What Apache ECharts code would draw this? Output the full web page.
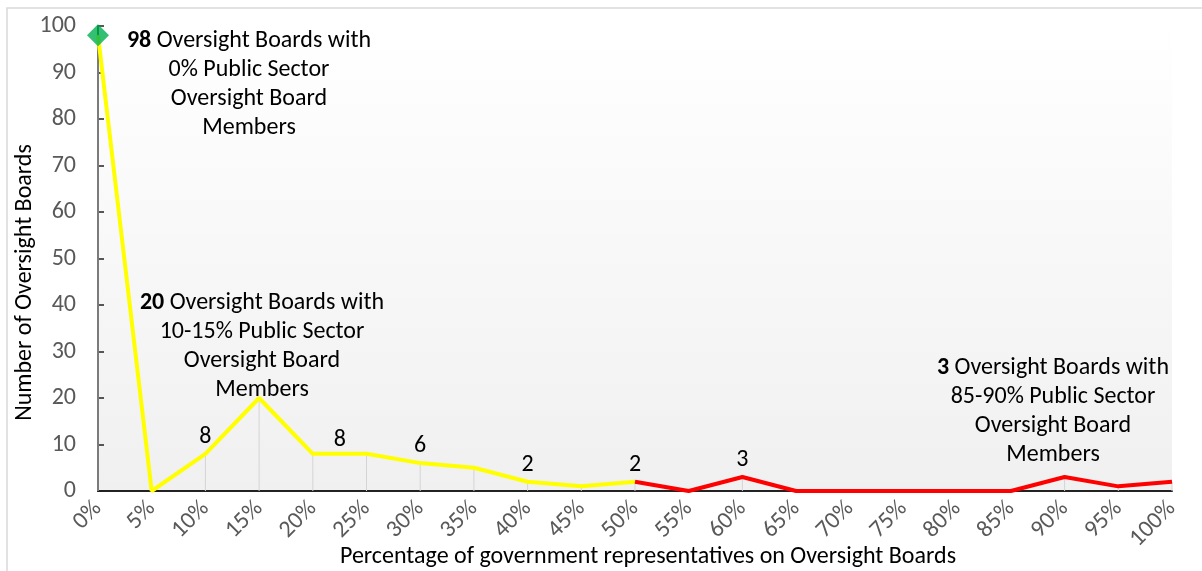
<!DOCTYPE html>
<html><head><meta charset="utf-8">
<script src="https://cdn.jsdelivr.net/npm/echarts@6/dist/echarts.min.js"></script>
<style>html,body{margin:0;padding:0;background:#fff}#c{width:1202px;height:571px}</style>
</head><body><div id="c"></div>
<script>
const categories = ['0%','5%','10%','15%','20%','25%','30%','35%','40%','45%','50%','55%','60%','65%','70%','75%','80%','85%','90%','95%','100%'];
const boards = [98,0,8,20,8,8,6,5,2,1,2,0,3,0,0,0,0,0,3,1,2];
const splitIndex = 10; // yellow up to 50%, red from 50%
const yTicks = [0,10,20,30,40,50,60,70,80,90,100];
const labelledPoints = {2:[0,0],4:[27,3],6:[0,0],8:[0,0],10:[0,0],12:[0,0]};

const FONT = 'Carlito, Lato, "Liberation Sans", sans-serif';
const yellowData = boards.map((v,i)=> i<=splitIndex ? v : '-');
const redData = boards.map((v,i)=> i>=splitIndex ? v : '-');
const labelData = boards.map((v,i)=>{
  if (labelledPoints[i]) return {value:v,label:{show:true,offset:labelledPoints[i]}};
  return {value:v,label:{show:false}};
});

const chart = echarts.init(document.getElementById('c'));
chart.setOption({
  animation:false,
  grid:{left:98,right:30,top:26,bottom:80,show:true,borderWidth:0,outerBoundsMode:'none',containLabel:false,
    backgroundColor:{type:'linear',x:0,y:0,x2:0,y2:1,colorStops:[{offset:0,color:'#ffffff'},{offset:1,color:'#f0f0f0'}]}},
  xAxis:{type:'category',data:categories,boundaryGap:false,
    name:'Percentage of government representatives on Oversight Boards',
    nameLocation:'middle',nameGap:54,nameMoveOverlap:false,
    nameTextStyle:{fontFamily:FONT,fontSize:24,color:'#000',padding:[0,0,0,26]},
    axisLine:{lineStyle:{color:'#222',width:2}},axisTick:{show:false},
    axisLabel:{rotate:45,fontFamily:FONT,fontSize:24,color:'#595959',margin:14},
    splitLine:{show:false}},
  yAxis:{type:'value',min:yTicks[0],max:yTicks[yTicks.length-1],interval:yTicks[1]-yTicks[0],
    name:'Number of Oversight Boards',nameLocation:'middle',nameGap:61,nameMoveOverlap:false,
    nameTextStyle:{fontFamily:FONT,fontSize:24,color:'#000',padding:[0,48,0,0]},
    axisLine:{show:true,lineStyle:{color:'#222',width:2}},
    axisTick:{show:true,inside:true,length:6,lineStyle:{color:'#222',width:1.5}},
    axisLabel:{fontFamily:FONT,fontSize:24,color:'#595959',margin:22},
    splitLine:{show:false}},
  series:[
    {type:'bar',data:boards,barWidth:1,itemStyle:{color:'#d4d4d4'},silent:true,z:1},
    {type:'line',data:yellowData,lineStyle:{color:'#ffff00',width:4},itemStyle:{color:'#ffff00'},
      showSymbol:false,symbol:'none',z:3},
    {type:'line',data:redData,lineStyle:{color:'#ff0000',width:4},showSymbol:false,symbol:'none',z:3},
    {type:'line',data:labelData,lineStyle:{opacity:0},symbol:'circle',symbolSize:0,showSymbol:true,
      itemStyle:{color:'rgba(0,0,0,0)'},z:4,
      label:{position:'top',distance:5,fontFamily:FONT,fontSize:24,color:'#000'}},
    {type:'scatter',data:boards.map((v,i)=> i===0 ? v : '-'),symbol:'diamond',symbolSize:22,
      itemStyle:{color:'#00b050'},z:5}
  ],
  graphic:[
    {type:'rect',shape:{x:7,y:8,width:1300,height:700},style:{fill:'none',stroke:'#d9d9d9',lineWidth:1.5},silent:true,z:-10},
    {type:'text',x:249,y:26,style:{text:'{b|98} Oversight Boards with\n0% Public Sector\nOversight Board\nMembers',
      align:'center',verticalAlign:'top',font:'24px '+FONT,fill:'#000',lineHeight:29,
      rich:{b:{fontWeight:'bold',fontSize:24,fontFamily:FONT,fill:'#000',lineHeight:29}}}},
    {type:'text',x:262,y:288,style:{text:'{b|20} Oversight Boards with\n10-15% Public Sector\nOversight Board\nMembers',
      align:'center',verticalAlign:'top',font:'24px '+FONT,fill:'#000',lineHeight:29,
      rich:{b:{fontWeight:'bold',fontSize:24,fontFamily:FONT,fill:'#000',lineHeight:29}}}},
    {type:'text',x:1053,y:353,style:{text:'{b|3} Oversight Boards with\n85-90% Public Sector\nOversight Board\nMembers',
      align:'center',verticalAlign:'top',font:'24px '+FONT,fill:'#000',lineHeight:29,
      rich:{b:{fontWeight:'bold',fontSize:24,fontFamily:FONT,fill:'#000',lineHeight:29}}}}
  ]
});
</script></body></html>
